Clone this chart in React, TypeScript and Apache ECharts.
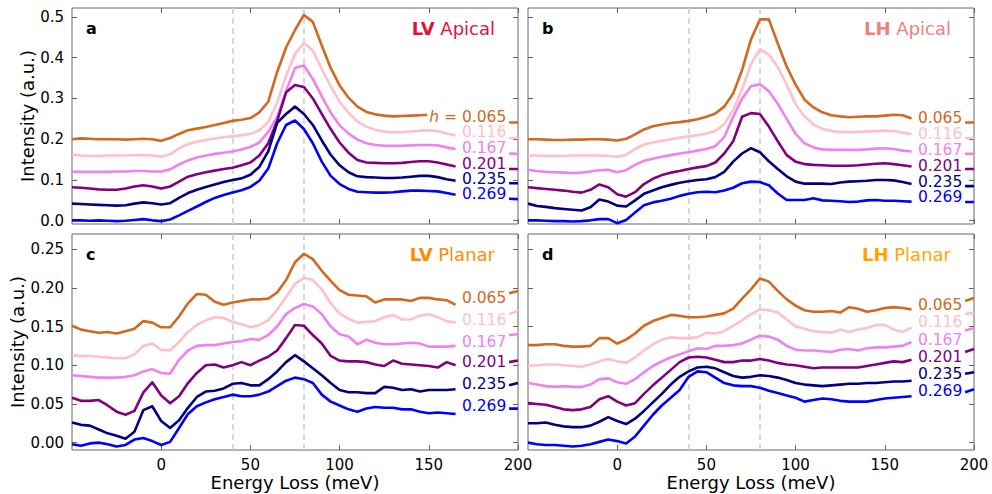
import React, { useEffect, useRef } from 'react';
import * as echarts from 'echarts';

// ---------- data ----------
const energy = [-50,-45,-40,-35,-30,-25,-20,-15,-10,-5,0,5,10,15,20,25,30,35,40,45,50,55,60,65,70,75,80,85,90,95,100,105,110,115,120,125,130,135,140,145,150,155,160,165,195,200];
const hValues = ['0.065','0.116','0.167','0.201','0.235','0.269'];
const xTickValues = [0, 50, 100, 150, 200];
const apicalTicks = [0, 0.1, 0.2, 0.3, 0.4, 0.5];
const planarTicks = [0, 0.05, 0.1, 0.15, 0.2, 0.25];

// (a) LV Apical
const lvApical065 = [0.200,0.202,0.201,0.200,0.200,0.200,0.199,0.200,0.201,0.200,0.196,0.203,0.213,0.222,0.226,0.230,0.235,0.240,0.245,0.248,0.252,0.266,0.292,0.365,0.425,0.468,0.505,0.488,0.430,0.375,0.332,0.302,0.280,0.267,0.261,0.258,0.256,0.257,0.258,0.259,0.260,0.256,0.252,0.248,0.241,0.241];
const lvApical116 = [0.162,0.160,0.159,0.159,0.160,0.160,0.160,0.161,0.161,0.160,0.157,0.163,0.178,0.188,0.194,0.198,0.202,0.205,0.207,0.210,0.213,0.222,0.242,0.290,0.355,0.410,0.436,0.418,0.372,0.330,0.292,0.265,0.243,0.231,0.223,0.219,0.217,0.217,0.219,0.221,0.222,0.220,0.214,0.209,0.203,0.203];
const lvApical167 = [0.121,0.120,0.120,0.120,0.120,0.121,0.121,0.122,0.122,0.121,0.121,0.126,0.138,0.148,0.155,0.160,0.164,0.167,0.170,0.175,0.181,0.192,0.218,0.255,0.318,0.375,0.381,0.348,0.305,0.265,0.234,0.214,0.199,0.190,0.186,0.184,0.184,0.184,0.185,0.186,0.186,0.185,0.180,0.176,0.165,0.164];
const lvApical201 = [0.082,0.081,0.079,0.077,0.076,0.076,0.079,0.084,0.087,0.084,0.079,0.084,0.096,0.108,0.114,0.119,0.123,0.127,0.130,0.136,0.143,0.160,0.190,0.245,0.315,0.333,0.328,0.300,0.262,0.225,0.192,0.167,0.149,0.143,0.142,0.141,0.141,0.142,0.144,0.146,0.146,0.143,0.138,0.133,0.127,0.127];
const lvApical235 = [0.042,0.041,0.040,0.039,0.038,0.037,0.038,0.042,0.045,0.043,0.040,0.043,0.056,0.068,0.076,0.083,0.089,0.095,0.100,0.104,0.113,0.132,0.170,0.240,0.262,0.280,0.262,0.235,0.197,0.162,0.136,0.119,0.109,0.107,0.106,0.105,0.105,0.106,0.108,0.110,0.110,0.107,0.102,0.098,0.092,0.092];
const lvApical269 = [0.001,0.001,0.000,0.001,0.000,-0.001,0.000,0.002,0.004,0.001,-0.001,0.003,0.013,0.024,0.035,0.046,0.056,0.063,0.069,0.075,0.083,0.098,0.128,0.190,0.235,0.246,0.225,0.190,0.145,0.110,0.090,0.078,0.071,0.070,0.069,0.069,0.070,0.072,0.074,0.074,0.073,0.072,0.068,0.064,0.054,0.053];

// (b) LH Apical
const lhApical065 = [0.200,0.200,0.199,0.198,0.198,0.199,0.199,0.200,0.200,0.199,0.197,0.201,0.212,0.224,0.232,0.236,0.240,0.242,0.245,0.249,0.255,0.263,0.280,0.312,0.370,0.445,0.494,0.494,0.435,0.378,0.334,0.297,0.278,0.266,0.259,0.256,0.254,0.255,0.256,0.256,0.258,0.260,0.259,0.251,0.241,0.241];
const lhApical116 = [0.160,0.160,0.159,0.159,0.159,0.160,0.160,0.160,0.160,0.159,0.157,0.162,0.176,0.187,0.192,0.196,0.200,0.204,0.207,0.210,0.214,0.220,0.237,0.272,0.322,0.385,0.420,0.408,0.377,0.334,0.286,0.256,0.236,0.226,0.220,0.218,0.217,0.218,0.219,0.220,0.221,0.220,0.216,0.212,0.203,0.203];
const lhApical167 = [0.125,0.122,0.120,0.119,0.118,0.117,0.118,0.121,0.124,0.125,0.119,0.124,0.137,0.147,0.152,0.157,0.161,0.165,0.168,0.172,0.176,0.183,0.205,0.255,0.300,0.330,0.335,0.318,0.287,0.250,0.213,0.190,0.180,0.175,0.174,0.174,0.174,0.174,0.175,0.177,0.178,0.176,0.172,0.170,0.164,0.164];
const lhApical201 = [0.082,0.080,0.078,0.076,0.074,0.071,0.069,0.076,0.089,0.082,0.065,0.059,0.070,0.090,0.103,0.112,0.118,0.122,0.127,0.131,0.134,0.143,0.165,0.195,0.255,0.264,0.262,0.231,0.195,0.161,0.145,0.139,0.137,0.136,0.135,0.135,0.135,0.136,0.138,0.140,0.141,0.139,0.136,0.133,0.127,0.127];
const lhApical235 = [0.042,0.036,0.034,0.031,0.029,0.027,0.025,0.033,0.052,0.047,0.037,0.035,0.050,0.066,0.074,0.082,0.088,0.093,0.097,0.100,0.102,0.107,0.120,0.145,0.165,0.178,0.168,0.146,0.127,0.109,0.096,0.091,0.091,0.091,0.090,0.094,0.096,0.097,0.098,0.100,0.100,0.099,0.095,0.090,0.085,0.085];
const lhApical269 = [0.001,0.001,0.000,-0.001,-0.001,-0.002,-0.001,0.001,0.004,0.004,-0.006,0.002,0.020,0.038,0.045,0.049,0.054,0.061,0.066,0.070,0.071,0.070,0.074,0.081,0.092,0.096,0.095,0.087,0.067,0.051,0.051,0.051,0.055,0.050,0.049,0.048,0.046,0.047,0.050,0.051,0.049,0.049,0.048,0.047,0.046,0.046];

// (c) LV Planar
const lvPlanar065 = [0.151,0.146,0.144,0.142,0.143,0.141,0.144,0.147,0.157,0.155,0.149,0.149,0.163,0.180,0.192,0.191,0.182,0.178,0.181,0.183,0.185,0.185,0.186,0.194,0.210,0.233,0.244,0.237,0.222,0.209,0.197,0.191,0.190,0.189,0.181,0.185,0.185,0.185,0.183,0.187,0.187,0.185,0.184,0.178,0.193,0.196];
const lvPlanar116 = [0.113,0.112,0.112,0.111,0.110,0.109,0.109,0.114,0.125,0.128,0.120,0.119,0.130,0.143,0.152,0.158,0.162,0.161,0.156,0.153,0.149,0.152,0.158,0.172,0.188,0.205,0.213,0.210,0.198,0.180,0.167,0.160,0.155,0.156,0.157,0.162,0.165,0.159,0.159,0.164,0.166,0.162,0.157,0.155,0.166,0.170];
const lvPlanar167 = [0.087,0.086,0.085,0.084,0.084,0.084,0.085,0.087,0.092,0.095,0.090,0.089,0.107,0.119,0.125,0.126,0.126,0.128,0.130,0.131,0.134,0.133,0.139,0.150,0.166,0.174,0.179,0.176,0.166,0.150,0.140,0.137,0.127,0.133,0.129,0.127,0.127,0.128,0.129,0.128,0.124,0.124,0.124,0.125,0.139,0.140];
const lvPlanar201 = [0.058,0.054,0.054,0.055,0.048,0.040,0.036,0.041,0.065,0.078,0.061,0.051,0.060,0.077,0.090,0.100,0.101,0.097,0.100,0.104,0.100,0.106,0.111,0.119,0.135,0.152,0.151,0.139,0.128,0.112,0.106,0.105,0.105,0.104,0.101,0.099,0.106,0.102,0.101,0.100,0.099,0.097,0.104,0.100,0.104,0.106];
const lvPlanar235 = [0.026,0.023,0.022,0.017,0.012,0.009,0.005,0.014,0.042,0.047,0.028,0.019,0.029,0.045,0.059,0.066,0.067,0.070,0.076,0.077,0.074,0.074,0.082,0.092,0.104,0.113,0.105,0.096,0.087,0.077,0.068,0.065,0.065,0.064,0.064,0.072,0.071,0.068,0.069,0.066,0.068,0.068,0.068,0.069,0.074,0.077];
const lvPlanar269 = [-0.002,-0.004,-0.001,0.000,-0.002,-0.005,-0.003,0.004,0.006,0.002,-0.003,0.001,0.019,0.037,0.047,0.052,0.056,0.059,0.062,0.060,0.060,0.062,0.066,0.073,0.080,0.084,0.082,0.077,0.062,0.053,0.048,0.043,0.040,0.044,0.046,0.045,0.045,0.043,0.043,0.040,0.038,0.039,0.038,0.037,0.044,0.044];

// (d) LH Planar
const lhPlanar065 = [0.126,0.126,0.127,0.127,0.125,0.124,0.124,0.125,0.135,0.135,0.128,0.133,0.141,0.151,0.157,0.161,0.165,0.164,0.162,0.162,0.163,0.165,0.167,0.173,0.186,0.198,0.212,0.208,0.196,0.185,0.177,0.171,0.169,0.169,0.170,0.168,0.175,0.173,0.169,0.171,0.174,0.175,0.174,0.172,0.183,0.187];
const lhPlanar116 = [0.099,0.100,0.101,0.101,0.100,0.099,0.098,0.101,0.105,0.108,0.105,0.103,0.110,0.119,0.127,0.133,0.136,0.135,0.135,0.136,0.142,0.141,0.144,0.151,0.158,0.166,0.172,0.171,0.168,0.159,0.150,0.147,0.144,0.143,0.142,0.146,0.143,0.146,0.148,0.152,0.152,0.146,0.143,0.149,0.166,0.168];
const lhPlanar167 = [0.077,0.075,0.073,0.072,0.073,0.072,0.072,0.075,0.082,0.083,0.078,0.076,0.082,0.091,0.099,0.105,0.110,0.114,0.118,0.122,0.121,0.125,0.125,0.126,0.128,0.133,0.138,0.137,0.133,0.125,0.120,0.119,0.119,0.118,0.117,0.120,0.121,0.119,0.122,0.123,0.123,0.124,0.125,0.130,0.145,0.148];
const lhPlanar201 = [0.051,0.050,0.049,0.046,0.043,0.042,0.043,0.046,0.056,0.060,0.053,0.048,0.051,0.063,0.074,0.084,0.094,0.104,0.110,0.111,0.110,0.107,0.104,0.104,0.106,0.106,0.108,0.106,0.103,0.101,0.100,0.098,0.096,0.097,0.097,0.097,0.097,0.097,0.099,0.101,0.103,0.105,0.104,0.107,0.117,0.121];
const lhPlanar235 = [0.025,0.025,0.026,0.023,0.021,0.020,0.020,0.022,0.027,0.033,0.028,0.024,0.031,0.041,0.052,0.063,0.075,0.085,0.092,0.097,0.098,0.096,0.091,0.086,0.084,0.085,0.087,0.086,0.084,0.081,0.077,0.075,0.074,0.073,0.074,0.075,0.076,0.076,0.077,0.077,0.078,0.079,0.079,0.080,0.089,0.091];
const lhPlanar269 = [0.000,-0.002,-0.003,-0.003,-0.004,-0.005,-0.004,-0.002,0.001,0.004,0.002,-0.001,0.008,0.022,0.036,0.048,0.058,0.068,0.085,0.092,0.091,0.084,0.077,0.074,0.073,0.073,0.071,0.067,0.064,0.061,0.058,0.053,0.055,0.057,0.056,0.054,0.053,0.053,0.053,0.055,0.057,0.058,0.059,0.060,0.065,0.069];

// ---------- styles / layout ----------
const FONT = '"DejaVu Sans", "Noto Sans", sans-serif';
const FRAME = '#666666';
const seriesColors = ['#d2691e', '#ffc0cb', '#ee82ee', '#800080', '#000080', '#0000ff'];
const LABEL_END = 165;      // last point before the labels
const LABEL_ANCHOR_X = 194; // right edge of the labels (meV)

const panels = [
  { letter: 'a', bold: 'LV', rest: 'Apical', titleColor: '#dc143c', left: 72, top: 8, yMin: -0.008, yMax: 0.522, ticks: apicalTicks, digits: 1, showY: true, showX: false, yNameGap: 36, hPrefix: true,
    data: [lvApical065, lvApical116, lvApical167, lvApical201, lvApical235, lvApical269], lift: [3, 4, 1, 3, 2, 1] },
  { letter: 'b', bold: 'LH', rest: 'Apical', titleColor: '#f08080', left: 528, top: 8, yMin: -0.008, yMax: 0.522, ticks: apicalTicks, digits: 1, showY: false, showX: false, yNameGap: 36, hPrefix: false,
    data: [lhApical065, lhApical116, lhApical167, lhApical201, lhApical235, lhApical269], lift: [0, 0, 1, 1, 2.5, 5] },
  { letter: 'c', bold: 'LV', rest: 'Planar', titleColor: '#ff8c00', left: 72, top: 234, yMin: -0.0095, yMax: 0.2695, ticks: planarTicks, digits: 2, showY: true, showX: true, yNameGap: 46, hPrefix: false,
    data: [lvPlanar065, lvPlanar116, lvPlanar167, lvPlanar201, lvPlanar235, lvPlanar269], lift: [7, 3, 4, 3, 5, 8] },
  { letter: 'd', bold: 'LH', rest: 'Planar', titleColor: '#ffa500', left: 528, top: 234, yMin: -0.0095, yMax: 0.2695, ticks: planarTicks, digits: 2, showY: false, showX: true, yNameGap: 46, hPrefix: false,
    data: [lhPlanar065, lhPlanar116, lhPlanar167, lhPlanar201, lhPlanar235, lhPlanar269], lift: [4, 5, 2.5, 3, 7, 5] },
];
const GRID_W = 446;
const GRID_H = 216;

function toPoints(vals: number[]) {
  const pts: any[] = [];
  for (let i = 0; i < energy.length; i++) {
    if (i > 0 && energy[i] - energy[i - 1] > 10) pts.push([(energy[i] + energy[i - 1]) / 2, '-']);
    pts.push([energy[i], vals[i]]);
  }
  return pts;
}

function buildOption() {
  const grid: any[] = [];
  const xAxis: any[] = [];
  const yAxis: any[] = [];
  const series: any[] = [];
  const graphic: any[] = [];
  const endIdx = energy.indexOf(LABEL_END);
  const tickStyle = { show: true, inside: true, length: 5, lineStyle: { color: FRAME, width: 1 } };
  const nameStyle = { fontSize: 18, color: '#000', fontFamily: FONT };
  const noLine = { show: false, onZero: false };

  panels.forEach((p, i) => {
    grid.push({ left: p.left, top: p.top, width: GRID_W, height: GRID_H, show: true, borderColor: FRAME, borderWidth: 1, backgroundColor: 'transparent', containLabel: false, outerBoundsMode: 'none' });
    const xBase = { type: 'value', gridIndex: i, min: -50, max: 200, interval: 50, axisLine: noLine, splitLine: { show: false } };
    xAxis.push({
      ...xBase, position: 'bottom',
      axisTick: { ...tickStyle, customValues: xTickValues },
      axisLabel: { show: p.showX, customValues: xTickValues, fontSize: 15, color: '#000', fontFamily: FONT, margin: 7 },
      name: p.showX ? 'Energy Loss (meV)' : '', nameLocation: 'middle', nameGap: 23, nameTextStyle: nameStyle,
    });
    xAxis.push({ ...xBase, position: 'top', axisTick: { ...tickStyle, customValues: xTickValues }, axisLabel: { show: false } });
    const yBase = { type: 'value', gridIndex: i, min: p.yMin, max: p.yMax, axisLine: noLine, splitLine: { show: false } };
    yAxis.push({
      ...yBase, position: 'left',
      axisTick: { ...tickStyle, customValues: p.ticks },
      axisLabel: { show: p.showY, customValues: p.ticks, fontSize: 15, color: '#000', fontFamily: FONT, margin: 8, formatter: (v: number) => v.toFixed(p.digits) },
      name: p.showY ? 'Intensity (a.u.)' : '', nameLocation: 'middle', nameRotate: 90, nameGap: p.yNameGap, nameTextStyle: nameStyle,
    });
    yAxis.push({ ...yBase, position: 'right', axisTick: { ...tickStyle, customValues: p.ticks }, axisLabel: { show: false } });

    p.data.forEach((vals, k) => {
      const color = seriesColors[k];
      const text = p.hPrefix && k === 0 ? '{i|h} = ' + hValues[k] : hValues[k];
      const s: any = {
        type: 'line', name: `${p.letter}-${hValues[k]}`, xAxisIndex: 2 * i, yAxisIndex: 2 * i,
        data: toPoints(vals), symbol: 'none', showSymbol: false, connectNulls: false, silent: true, z: 2,
        lineStyle: { color, width: 2.6, join: 'round' }, itemStyle: { color },
        markPoint: {
          silent: true, symbol: 'circle', symbolSize: 0, z: 5,
          data: [{ coord: [LABEL_ANCHOR_X, vals[endIdx]] }],
          label: {
            show: true, position: 'left', distance: 0, offset: [0, -p.lift[k]],
            formatter: text, color, fontSize: 15.5, fontFamily: FONT, lineHeight: 15,
            backgroundColor: '#ffffff', padding: [0, 1, 0, 2],
            rich: { i: { fontStyle: 'italic', color, fontSize: 15.5, fontFamily: FONT, lineHeight: 15 } },
          },
        },
      };
      if (k === 0) {
        s.markLine = {
          silent: true, z: 1, symbol: ['none', 'none'], label: { show: false },
          lineStyle: { color: '#d0d0d0', type: [6, 4], width: 1.6 },
          data: [{ xAxis: 40 }, { xAxis: 80 }],
        };
      }
      series.push(s);
    });

    graphic.push({
      type: 'text', x: p.left + 14, y: p.top + 20,
      style: { text: p.letter, fontSize: 16, fontWeight: 'bold', fontFamily: FONT, fill: '#000', verticalAlign: 'middle', align: 'left' },
    });
    graphic.push({
      type: 'text', x: p.left + GRID_W - 23, y: p.top + 20,
      style: {
        text: `{b|${p.bold}} {n|${p.rest}}`, align: 'right', verticalAlign: 'middle', fontSize: 18, fontFamily: FONT, fill: p.titleColor,
        rich: {
          b: { fontSize: 18, fontFamily: FONT, fontWeight: 'bold', fill: p.titleColor },
          n: { fontSize: 18, fontFamily: FONT, fill: p.titleColor },
        },
      },
    });
  });

  return { animation: false, backgroundColor: '#ffffff', grid, xAxis, yAxis, series, graphic };
}

export default function App() {
  const ref = useRef<HTMLDivElement>(null);
  useEffect(() => {
    if (!ref.current) return;
    const chart = echarts.init(ref.current, null, { renderer: 'svg' });
    chart.setOption(buildOption() as any);
    return () => chart.dispose();
  }, []);
  return <div ref={ref} style={{ position: 'fixed', left: 0, top: 0, width: 992, height: 494, background: '#fff' }} />;
}
